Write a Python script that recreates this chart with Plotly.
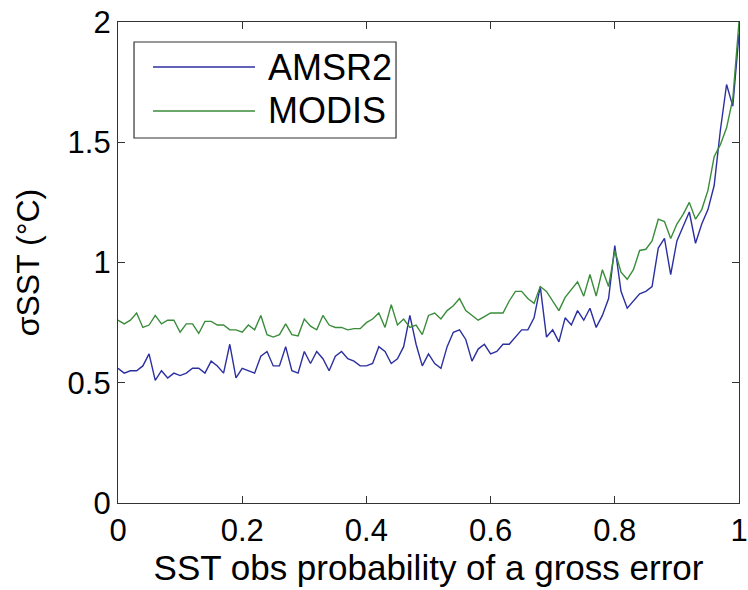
import plotly.graph_objects as go

prob = [0.00, 0.01, 0.02, 0.03, 0.04, 0.05, 0.06, 0.07, 0.08, 0.09,
        0.10, 0.11, 0.12, 0.13, 0.14, 0.15, 0.16, 0.17, 0.18, 0.19,
        0.20, 0.21, 0.22, 0.23, 0.24, 0.25, 0.26, 0.27, 0.28, 0.29,
        0.30, 0.31, 0.32, 0.33, 0.34, 0.35, 0.36, 0.37, 0.38, 0.39,
        0.40, 0.41, 0.42, 0.43, 0.44, 0.45, 0.46, 0.47, 0.48, 0.49,
        0.50, 0.51, 0.52, 0.53, 0.54, 0.55, 0.56, 0.57, 0.58, 0.59,
        0.60, 0.61, 0.62, 0.63, 0.64, 0.65, 0.66, 0.67, 0.68, 0.69,
        0.70, 0.71, 0.72, 0.73, 0.74, 0.75, 0.76, 0.77, 0.78, 0.79,
        0.80, 0.81, 0.82, 0.83, 0.84, 0.85, 0.86, 0.87, 0.88, 0.89,
        0.90, 0.91, 0.92, 0.93, 0.94, 0.95, 0.96, 0.97, 0.98, 0.99, 1.00]

amsr2 = [0.56, 0.54, 0.55, 0.55, 0.57, 0.62, 0.51, 0.55, 0.52, 0.54,
         0.53, 0.54, 0.56, 0.56, 0.54, 0.59, 0.57, 0.54, 0.66, 0.52,
         0.56, 0.55, 0.54, 0.61, 0.63, 0.57, 0.57, 0.65, 0.55, 0.54,
         0.63, 0.58, 0.63, 0.60, 0.55, 0.61, 0.63, 0.60, 0.59, 0.57,
         0.57, 0.58, 0.65, 0.63, 0.58, 0.60, 0.65, 0.78, 0.66, 0.57,
         0.62, 0.58, 0.56, 0.65, 0.71, 0.72, 0.68, 0.59, 0.64, 0.66,
         0.62, 0.63, 0.66, 0.66, 0.69, 0.72, 0.72, 0.77, 0.90, 0.69,
         0.72, 0.67, 0.77, 0.74, 0.80, 0.76, 0.81, 0.73, 0.78, 0.85,
         1.07, 0.88, 0.81, 0.84, 0.87, 0.88, 0.90, 1.06, 1.10, 0.95,
         1.09, 1.15, 1.21, 1.08, 1.16, 1.22, 1.32, 1.55, 1.74, 1.65, 1.95]

modis = [0.76, 0.745, 0.76, 0.79, 0.73, 0.74, 0.78, 0.745, 0.76, 0.76,
         0.71, 0.745, 0.745, 0.705, 0.755, 0.755, 0.74, 0.74, 0.72, 0.72,
         0.71, 0.74, 0.72, 0.78, 0.70, 0.69, 0.70, 0.745, 0.70, 0.695,
         0.765, 0.735, 0.72, 0.78, 0.74, 0.73, 0.73, 0.72, 0.725, 0.725,
         0.75, 0.765, 0.79, 0.73, 0.825, 0.74, 0.765, 0.73, 0.74, 0.70,
         0.78, 0.79, 0.765, 0.80, 0.82, 0.85, 0.80, 0.78, 0.76, 0.775,
         0.79, 0.79, 0.79, 0.84, 0.88, 0.88, 0.85, 0.83, 0.90, 0.88,
         0.84, 0.80, 0.855, 0.89, 0.92, 0.86, 0.95, 0.86, 0.97, 0.90,
         1.05, 0.96, 0.93, 0.97, 1.05, 1.055, 1.09, 1.18, 1.17, 1.10,
         1.16, 1.20, 1.25, 1.18, 1.22, 1.30, 1.44, 1.49, 1.56, 1.68, 2.00]

series_names = ["AMSR2", "MODIS"]
series_colors = ["#2B2FA0", "#3A8C3A"]

x_ticks = [0, 0.2, 0.4, 0.6, 0.8, 1]
x_ticklabels = ["0", "0.2", "0.4", "0.6", "0.8", "1"]
y_ticks = [0, 0.5, 1, 1.5, 2]
y_ticklabels = ["0", "0.5", "1", "1.5", "2"]

FONT = "Liberation Sans, Arial, sans-serif"

fig = go.Figure()
for name, ys, col in zip(series_names, [amsr2, modis], series_colors):
    fig.add_trace(go.Scatter(x=prob, y=ys, mode="lines", name=name,
                             line=dict(color=col, width=1.4),
                             showlegend=False))

axis_common = dict(
    showgrid=False, zeroline=False, showline=True, linecolor="#333333",
    linewidth=1.3, mirror="ticks", ticks="inside", ticklen=7,
    tickcolor="#333333", tickwidth=1.3, automargin=False,
    tickfont=dict(family=FONT, size=31, color="black"),
)

# Legend drawn in paper coordinates (MATLAB-style long line keys)
shapes = [dict(type="rect", xref="paper", yref="paper",
               x0=0.0258, x1=0.4477, y0=0.7588, y1=0.9584,
               line=dict(color="#333333", width=1.2), fillcolor="white",
               layer="above")]
annotations = []
legend_y = [0.9064, 0.8150]
for name, col, ly in zip(series_names, series_colors, legend_y):
    shapes.append(dict(type="line", xref="paper", yref="paper",
                       x0=0.0564, x1=0.2206, y0=ly, y1=ly,
                       line=dict(color=col, width=1.4), layer="above"))
    annotations.append(dict(xref="paper", yref="paper", x=0.2383, y=ly,
                            xanchor="left", yanchor="middle", text=name,
                            showarrow=False,
                            font=dict(family=FONT, size=36, color="black")))

fig.update_layout(
    width=748, height=590,
    margin=dict(l=118, r=9, t=22, b=87),
    paper_bgcolor="white", plot_bgcolor="white",
    font=dict(family=FONT, color="black"),
    showlegend=False,
    xaxis=dict(range=[0, 1], tickvals=x_ticks, ticktext=x_ticklabels,
               title=dict(text="SST obs probability of a gross error",
                          font=dict(family=FONT, size=35), standoff=7),
               **axis_common),
    yaxis=dict(range=[0, 2], tickvals=y_ticks, ticktext=y_ticklabels,
               title=dict(text="σSST (°C)", font=dict(family=FONT, size=32),
                          standoff=18),
               **axis_common),
    shapes=shapes,
    annotations=annotations,
)

fig.write_html("out.html")
